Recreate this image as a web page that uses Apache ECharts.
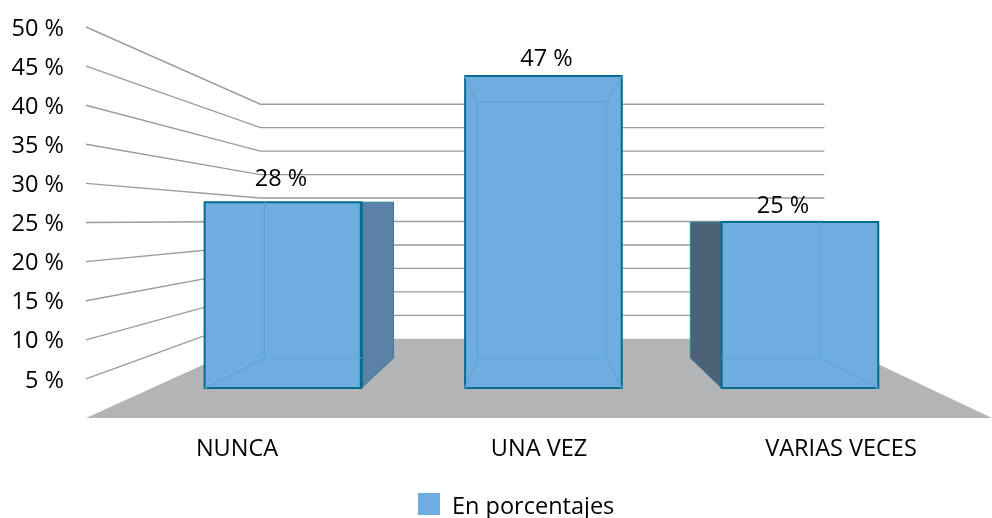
<!DOCTYPE html>
<html>
<head>
<meta charset="utf-8">
<style>html,body{margin:0;padding:0;background:#fff}#c{width:992px;height:518px}</style>
<script src="https://cdn.jsdelivr.net/npm/echarts@6/dist/echarts.min.js"></script>
</head>
<body>
<div id="c"></div>
<script>
var categories = ['NUNCA', 'UNA VEZ', 'VARIAS VECES'];
var seriesName = 'En porcentajes';
var values = [28, 47, 25];
var wallTicks = [5, 10, 15, 20, 25, 30, 35, 40, 45, 50];
var floorLevel = [0];

var FONT = '"Open Sans", "Noto Sans", sans-serif';
var HORIZON = 220;
var WALL = {sx: 0.6225, sy: 0.6, vx: 548};
var FRONT = {sx: 0.856, sy: 0.849, vx: 556};
var INNER = {sx: 0.705, sy: 0.697, vx: 549};
var BAR_FRACTION = 0.303;
var BAR_SHIFT = [0, 2, 0];
var LABEL_NUDGE = [[-2, -6], [3, 0], [-17, 1]];
var FILL = '#6face0', EDGE = '#046c8e', INNER_LINE = '#62a4da';
var FLOOR = '#b3b4b6', GRID_LINE = '#9c9c9e';

function px(x, plane) { return plane.vx + (x - plane.vx) * plane.sx; }
function py(y, plane) { return HORIZON + (y - HORIZON) * plane.sy; }
function line(a, b, style) {
  return {type: 'line', shape: {x1: a[0], y1: a[1], x2: b[0], y2: b[1]}, style: style};
}

function renderFloor(params, api) {
  var box = params.coordSys;
  var y0 = api.coord([0, api.value(0)])[1];
  var l = box.x, r = box.x + box.width;
  return {type: 'polygon', silent: true, shape: {points: [
    [l, y0], [px(l, WALL), py(y0, WALL)], [px(r, WALL), py(y0, WALL)], [r, y0]
  ]}, style: {fill: FLOOR}};
}

function renderWall(params, api) {
  var box = params.coordSys;
  var y = api.coord([0, api.value(0)])[1];
  var l = box.x, r = box.x + box.width;
  return {type: 'polyline', silent: true, shape: {points: [
    [l, y], [px(l, WALL), py(y, WALL)], [px(r, WALL), py(y, WALL)]
  ]}, style: {fill: null, stroke: GRID_LINE, lineWidth: 1.4}};
}

function renderBar(params, api) {
  var i = params.dataIndex;
  var v = api.value(1);
  var base = api.coord([i, 0]);
  var top = api.coord([i, v]);
  var hw = api.size([1, 0])[0] * BAR_FRACTION;
  var sh = BAR_SHIFT[i];
  var cx = base[0];
  var fl = px(cx - hw, FRONT) + sh, fr = px(cx + hw, FRONT) + sh;
  var ft = py(top[1], FRONT), fb = py(base[1], FRONT);
  var il = px(cx - hw, INNER), ir = px(cx + hw, INNER);
  var it = py(top[1], INNER), ib = py(base[1], INNER);
  if (it - ft < 8) { it = ft; }
  var kids = [];
  if (ir > fr) {
    kids.push({type: 'polygon', shape: {points: [[fr, ft], [ir, it], [ir, ib], [fr, fb]]},
      style: {fill: '#5b82a6', stroke: '#2f8299', lineWidth: 1}});
  }
  if (il < fl) {
    kids.push({type: 'polygon', shape: {points: [[fl, ft], [il, it], [il, ib], [fl, fb]]},
      style: {fill: '#4d6276', stroke: '#2f8299', lineWidth: 1}});
  }
  kids.push({type: 'rect', shape: {x: fl, y: ft, width: fr - fl, height: fb - ft},
    style: {fill: api.visual('color'), stroke: EDGE, lineWidth: 2}});
  if (ir > fr) { kids.push(line([fr, ft], [fr, fb], {stroke: EDGE, lineWidth: 3})); }
  var s = {stroke: INNER_LINE, lineWidth: 1.5};
  var xa = Math.max(il, fl), xb = Math.min(ir, fr);
  kids.push(line([xa, ib], [xb, ib], s));
  if (il > fl) { kids.push(line([il, it], [il, ib], s)); kids.push(line([fl, fb], [il, ib], s)); }
  if (ir < fr) { kids.push(line([ir, it], [ir, ib], s)); kids.push(line([fr, fb], [ir, ib], s)); }
  if (it > ft) {
    kids.push(line([il, it], [ir, it], s));
    kids.push(line([fl, ft], [il, it], s));
    kids.push(line([fr, ft], [ir, it], s));
  }
  kids.push({type: 'text', style: {
    x: (fl + fr) / 2 + LABEL_NUDGE[i][0], y: ft - 5 + LABEL_NUDGE[i][1],
    text: v + ' %', fill: '#000', font: '23.5px ' + FONT, align: 'center', verticalAlign: 'bottom'
  }});
  return {type: 'group', children: kids};
}

var chart = echarts.init(document.getElementById('c'), null, {renderer: 'canvas'});
chart.setOption({
  animation: false,
  backgroundColor: '#fff',
  grid: {left: 86, width: 906, top: 27, height: 391},
  legend: {
    data: [seriesName], top: 493, left: 418, icon: 'rect',
    itemWidth: 22, itemHeight: 22, itemGap: 8,
    selectedMode: false, padding: 0,
    formatter: function (n) { return '{t|' + n + '}'; },
    textStyle: {fontFamily: FONT, fontSize: 23.5, color: '#000', padding: [0, 0, 0, 7],
      rich: {t: {fontFamily: FONT, fontSize: 23.5, color: '#000', padding: [6, 0, 0, 0]}}}
  },
  xAxis: {
    type: 'category', data: categories,
    axisLine: {show: false}, axisTick: {show: false}, splitLine: {show: false},
    axisLabel: {color: '#000', fontFamily: FONT, fontSize: 23.5, margin: 19}
  },
  yAxis: {
    type: 'value', min: 0, max: 50, interval: 5,
    axisLine: {show: false}, axisTick: {show: false}, splitLine: {show: false},
    axisLabel: {color: '#000', fontFamily: FONT, fontSize: 23.5, margin: 22,
      rich: {t: {fontFamily: FONT, fontSize: 23.5, color: '#000', padding: [4, 0, 0, 0]}},
      formatter: function (v) { return v === 0 ? '' : '{t|' + v + ' %}'; }}
  },
  series: [
    {type: 'custom', name: 'suelo', coordinateSystem: 'cartesian2d', clip: false, z: 1, silent: true,
      renderItem: renderFloor, encode: {y: 0}, data: floorLevel.map(function (v) { return [v]; })},
    {type: 'custom', name: 'rejilla', coordinateSystem: 'cartesian2d', clip: false, z: 2, silent: true,
      renderItem: renderWall, encode: {y: 0}, data: wallTicks.map(function (v) { return [v]; })},
    {type: 'custom', name: seriesName, coordinateSystem: 'cartesian2d', clip: false, z: 3,
      itemStyle: {color: FILL}, renderItem: renderBar, encode: {x: 0, y: 1},
      data: values.map(function (v, i) { return [i, v]; })}
  ]
});
</script>
</body>
</html>
